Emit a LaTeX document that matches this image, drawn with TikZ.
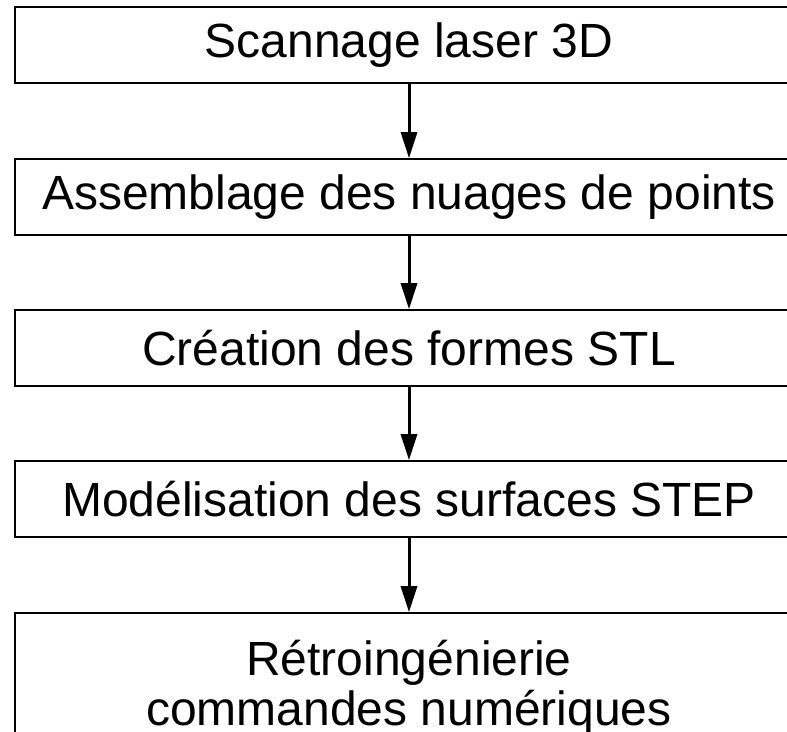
\documentclass[tikz,border=0pt]{standalone}
\usepackage{fontspec}
\setmainfont{Liberation Sans}
\usetikzlibrary{arrows.meta}
\begin{document}
\begin{tikzpicture}[x=1pt,y=1pt,
  stepbox/.style={draw=black, line width=2.2pt, rectangle, minimum width=788pt,
    minimum height=76pt, inner sep=0pt, align=center,
    font=\fontsize{48}{50}\selectfont},
  flow/.style={line width=3pt, -{Triangle[width=16pt,length=26pt]}}]
\useasboundingbox (0,0) rectangle (787,731);
\clip (0,0) rectangle (787,731);
\node[stepbox] (b1) at (409,685.75) {Scannage laser 3D};
\node[stepbox] (b2) at (409,533.75) {Assemblage des nuages de points};
\node[stepbox] (b3) at (409,382.7) {Création des formes STL};
\node[stepbox] (b4) at (409,231.7) {Modélisation des surfaces STEP};
\node[stepbox, minimum height=150pt] (b5) at (409,42.7) {Rétroingénierie\\commandes numériques};
\draw[flow] (b1.south) -- (b2.north);
\draw[flow] (b2.south) -- (b3.north);
\draw[flow] (b3.south) -- (b4.north);
\draw[flow] (b4.south) -- (b5.north);
\end{tikzpicture}
\end{document}
